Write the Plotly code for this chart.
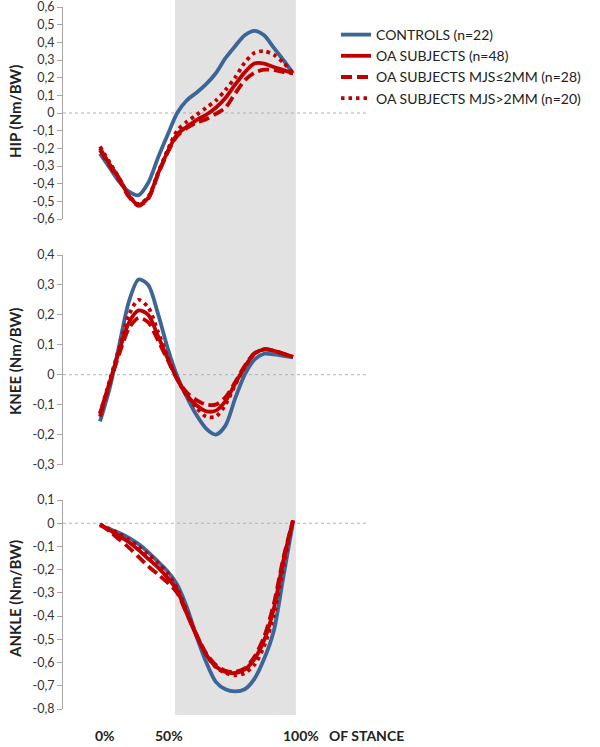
import plotly.graph_objects as go

# ---------------- data ----------------
stance = [0, 5, 10, 15, 20, 25, 30, 35, 40, 45, 50, 55, 60, 65, 70, 75, 80, 85, 90, 95, 100]

hip_controls = [-0.23, -0.31, -0.39, -0.445, -0.465, -0.395, -0.255, -0.125, 0.0, 0.072, 0.115, 0.163, 0.225, 0.31, 0.378, 0.44, 0.465, 0.44, 0.37, 0.30, 0.225]
hip_oa       = [-0.20, -0.29, -0.37, -0.47, -0.52, -0.48, -0.345, -0.22, -0.12, -0.078, -0.04, -0.01, 0.03, 0.085, 0.16, 0.23, 0.28, 0.28, 0.26, 0.243, 0.225]
hip_le2      = [-0.21, -0.30, -0.38, -0.475, -0.525, -0.485, -0.35, -0.225, -0.13, -0.085, -0.055, -0.035, -0.005, 0.03, 0.11, 0.185, 0.228, 0.245, 0.243, 0.232, 0.225]
hip_gt2      = [-0.19, -0.28, -0.37, -0.465, -0.515, -0.475, -0.34, -0.21, -0.10, -0.05, -0.011, 0.03, 0.07, 0.13, 0.20, 0.285, 0.34, 0.35, 0.33, 0.285, 0.225]

knee_controls = [-0.156, -0.045, 0.10, 0.245, 0.318, 0.30, 0.205, 0.09, -0.005, -0.075, -0.135, -0.18, -0.20, -0.17, -0.08, 0.0, 0.05, 0.07, 0.068, 0.063, 0.058]
knee_oa       = [-0.13, -0.025, 0.08, 0.175, 0.215, 0.20, 0.13, 0.055, -0.015, -0.068, -0.102, -0.122, -0.12, -0.088, -0.03, 0.025, 0.07, 0.085, 0.08, 0.07, 0.06]
knee_le2      = [-0.14, -0.03, 0.07, 0.155, 0.19, 0.175, 0.115, 0.05, -0.015, -0.06, -0.085, -0.10, -0.10, -0.075, -0.025, 0.03, 0.072, 0.085, 0.08, 0.07, 0.06]
knee_gt2      = [-0.13, -0.02, 0.09, 0.20, 0.25, 0.225, 0.145, 0.06, -0.015, -0.07, -0.11, -0.14, -0.14, -0.10, -0.035, 0.025, 0.07, 0.085, 0.08, 0.07, 0.06]

ankle_controls = [-0.01, -0.025, -0.042, -0.063, -0.09, -0.125, -0.165, -0.207, -0.265, -0.362, -0.487, -0.598, -0.683, -0.715, -0.724, -0.715, -0.67, -0.585, -0.465, -0.231, 0.005]
ankle_oa       = [-0.005, -0.03, -0.055, -0.082, -0.115, -0.153, -0.19, -0.235, -0.29, -0.39, -0.485, -0.565, -0.617, -0.64, -0.645, -0.63, -0.585, -0.505, -0.37, -0.16, 0.012]
ankle_le2      = [-0.005, -0.035, -0.07, -0.105, -0.145, -0.185, -0.22, -0.255, -0.30, -0.39, -0.48, -0.56, -0.61, -0.635, -0.64, -0.625, -0.575, -0.49, -0.35, -0.15, 0.012]
ankle_gt2      = [-0.005, -0.025, -0.045, -0.07, -0.10, -0.133, -0.17, -0.215, -0.28, -0.38, -0.48, -0.565, -0.62, -0.645, -0.655, -0.645, -0.61, -0.53, -0.40, -0.19, 0.012]

series_names = ["CONTROLS (n=22)", "OA SUBJECTS (n=48)",
                "OA SUBJECTS MJS≤2MM (n=28)", "OA SUBJECTS MJS>2MM (n=20)"]

hip_ticks = [0.6, 0.5, 0.4, 0.3, 0.2, 0.1, 0, -0.1, -0.2, -0.3, -0.4, -0.5, -0.6]
knee_ticks = [0.4, 0.3, 0.2, 0.1, 0, -0.1, -0.2, -0.3]
ankle_ticks = [0.1, 0, -0.1, -0.2, -0.3, -0.4, -0.5, -0.6, -0.7, -0.8]

panel_titles = ["HIP (Nm/BW)", "KNEE (Nm/BW)", "ANKLE (Nm/BW)"]
x_labels = ["0%", "50%", "100%", "OF STANCE"]
shaded_from, shaded_to = 38.9, 101.5

# ---------------- styling ----------------
BLUE = "#3B6697"
RED = "#C00000"
FONT = "Lato"
W, H = 600, 747
styles = [dict(color=BLUE, dash="solid"),
          dict(color=RED, dash="solid"),
          dict(color=RED, dash="11px,5px"),
          dict(color=RED, dash="3.5px,4px")]


def fmt(v):
    if v == 0:
        return "0"
    return ("%.1f" % v).replace(".", ",")


panels = [
    (hip_ticks, [hip_controls, hip_oa, hip_le2, hip_gt2], (7, 219)),
    (knee_ticks, [knee_controls, knee_oa, knee_le2, knee_gt2], (255, 464.5)),
    (ankle_ticks, [ankle_controls, ankle_oa, ankle_le2, ankle_gt2], (500, 709)),
]
title_centers = [112, 362, 599]

fig = go.Figure()
px0, px100 = 100.0, 293.0
scale = (px100 - px0) / 100.0
x_left, x_right = 63.0, 368.0
xrange = [(x_left - px0) / scale, (x_right - px0) / scale]

layout = dict(
    template="none",
    width=W, height=H,
    margin=dict(l=0, r=0, t=0, b=0, pad=0, autoexpand=False),
    paper_bgcolor="white", plot_bgcolor="rgba(0,0,0,0)",
    font=dict(family=FONT, color="#333333"),
    showlegend=True,
    legend=dict(x=336 / W, y=1 - 19 / H, xanchor="left", yanchor="top",
                font=dict(family=FONT, size=14, color="#222222"),
                bgcolor="rgba(0,0,0,0)", tracegroupgap=0, itemwidth=30),
)

shapes = []
annotations = []
for i, (ticks, ys, (ptop, pbot)) in enumerate(panels):
    n = "" if i == 0 else str(i + 1)
    xa, ya = "x" + n, "y" + n
    for j, (name, y, st) in enumerate(zip(series_names, ys, styles)):
        fig.add_trace(go.Scatter(
            x=stance, y=y, name=name, mode="lines",
            line=dict(color=st["color"], dash=st["dash"], width=3.8, shape="spline", smoothing=0.8),
            xaxis=xa, yaxis=ya, legendgroup=name, showlegend=(i == 0),
            hoverinfo="skip"))
    layout["xaxis" + n] = dict(domain=[x_left / W, x_right / W], range=xrange,
                               anchor=ya, visible=False, fixedrange=True, automargin=False)
    layout["yaxis" + n] = dict(domain=[1 - pbot / H, 1 - ptop / H],
                               range=[min(ticks), max(ticks)], anchor=xa,
                               tickvals=ticks, ticktext=[fmt(t) for t in ticks],
                               showgrid=False, zeroline=False, showline=True,
                               linecolor="#A6A6A6", linewidth=1, automargin=False,
                               ticks="outside", ticklen=5, tickcolor="#A6A6A6",
                               ticklabeloverflow="allow", fixedrange=True,
                               tickfont=dict(family=FONT, size=12.5, color="#333333"))
    # dotted zero line
    shapes.append(dict(type="line", xref=xa + " domain", yref=ya, x0=0, x1=1, y0=0, y1=0,
                       line=dict(color="#B0B0B0", width=1, dash="dot"), layer="below"))
    annotations.append(dict(text="<b>%s</b>" % panel_titles[i], xref="paper", yref="paper",
                            x=15 / W, y=1 - title_centers[i] / H, textangle=-90,
                            showarrow=False, xanchor="center", yanchor="middle",
                            font=dict(family=FONT, size=15, color="#222222")))

# shaded band
shapes.insert(0, dict(type="rect", xref="x", yref="paper", x0=shaded_from, x1=shaded_to,
                      y0=1 - 715 / H, y1=1, fillcolor="#E2E2E2", line=dict(width=0), layer="below"))

for lbl, cx in zip(x_labels, [105, 169, 301, 366]):
    annotations.append(dict(text="<b>%s</b>" % lbl, xref="paper", yref="paper",
                            x=cx / W, y=1 - 746 / H, showarrow=False,
                            xanchor="center", yanchor="bottom",
                            font=dict(family=FONT, size=14, color="#222222")))

layout["shapes"] = shapes
layout["annotations"] = annotations
fig.update_layout(**layout)
fig.write_html("out.html", config={"displayModeBar": False},
               post_script="document.body.style.margin='0';document.body.style.overflow='hidden';")
